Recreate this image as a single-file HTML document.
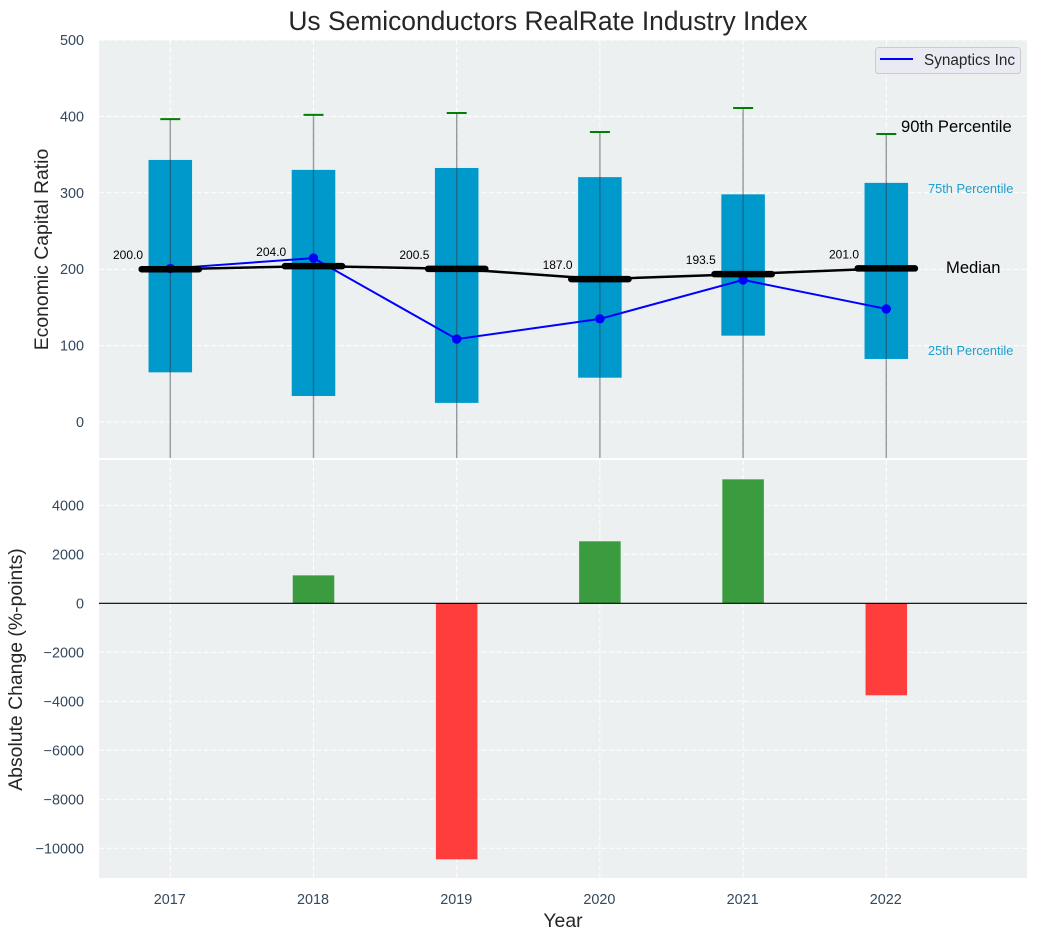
<!DOCTYPE html>
<html>
<head>
<meta charset="utf-8">
<title>Us Semiconductors RealRate Industry Index</title>
<style>
html,body{margin:0;padding:0;background:#fff;}
svg{display:block;font-family:"Liberation Sans",sans-serif;}
</style>
</head>
<body>
<svg id="chart" width="1038" height="940" viewBox="0 0 1038 940" xmlns="http://www.w3.org/2000/svg">
<defs>
<clipPath id="clip-top"><rect x="99" y="40" width="928" height="418"/></clipPath>
<clipPath id="clip-bottom"><rect x="99" y="460" width="928" height="418"/></clipPath>
</defs>
<rect x="0" y="0" width="1038" height="940" fill="#ffffff"/>
<rect x="99" y="40" width="928" height="418" fill="#ecf0f1"/>
<rect x="99" y="460" width="928" height="418" fill="#ecf0f1"/>
<g id="grid"></g>
<g id="top-marks" clip-path="url(#clip-top)"></g>
<g id="bottom-marks" clip-path="url(#clip-bottom)"></g>
<g id="labels"></g>
<text x="548" y="30" text-anchor="middle" font-size="26.4" fill="#262626">Us Semiconductors RealRate Industry Index</text>
<text transform="translate(48,249.5) rotate(-90)" text-anchor="middle" font-size="19.4" fill="#262626">Economic Capital Ratio</text>
<text transform="translate(22,669.5) rotate(-90)" text-anchor="middle" font-size="19.4" fill="#262626">Absolute Change (%-points)</text>
<text x="563" y="927" text-anchor="middle" font-size="19.4" fill="#262626">Year</text>
<g>
<rect x="875.5" y="47.5" width="145" height="26" rx="3" fill="#eaeaf2" stroke="#cccccc" stroke-width="1"/>
<line x1="880" y1="59" x2="913" y2="59" stroke="#0000ff" stroke-width="2"/>
<text x="924" y="65" font-size="15.3" fill="#262626">Synaptics Inc</text>
</g>
<text x="901" y="132" font-size="16.6" fill="#000000">90th Percentile</text>
<text x="928" y="193" font-size="12.8" fill="#1a9fcf">75th Percentile</text>
<text x="946" y="273" font-size="16.6" fill="#000000">Median</text>
<text x="928" y="355" font-size="12.8" fill="#1a9fcf">25th Percentile</text>
</svg>
<script>
var years = [2017, 2018, 2019, 2020, 2021, 2022];
var p90 = [396.5, 402, 404.5, 379.5, 411, 377];
var p75 = [343, 330, 332.5, 320.5, 298, 313];
var medians = [200, 204, 200.5, 187, 193.5, 201];
var p25 = [65, 34, 25, 58, 113, 82.5];
var p10 = [-100, -100, -100, -100, -100, -100];
var synaptics = [201, 214.5, 108.5, 135, 186, 148];
var changes = [0, 1140, -10450, 2530, 5060, -3755];
var medianLabels = ['200.0', '204.0', '200.5', '187.0', '193.5', '201.0'];
var topTicks = [0, 100, 200, 300, 400, 500];
var bottomTicks = [-10000, -8000, -6000, -4000, -2000, 0, 2000, 4000];

var NS = 'http://www.w3.org/2000/svg';
function xScale(v) { return 170.3 + (v - 2017) * 143.2; }
function yTop(v) { return 422 - v * 0.764; }
function yBottom(v) { return 603.3 - v * 0.0245; }
function make(parent, tag, attrs, name) {
  var el = document.createElementNS(NS, tag);
  for (var k in attrs) { el.setAttribute(k, attrs[k]); }
  
  
  parent.appendChild(el);
  return el;
}
var grid = document.getElementById('grid');
var topG = document.getElementById('top-marks');
var botG = document.getElementById('bottom-marks');
var labels = document.getElementById('labels');
var dash = '5,2.5';

years.forEach(function (yr) {
  var x = xScale(yr);
  make(grid, 'line', {x1: x, x2: x, y1: 40, y2: 458, stroke: '#ffffff', 'stroke-width': 1, 'stroke-dasharray': dash}, 'top-grid-x-' + yr);
  make(grid, 'line', {x1: x, x2: x, y1: 460, y2: 878, stroke: '#ffffff', 'stroke-width': 1, 'stroke-dasharray': dash}, 'bottom-grid-x-' + yr);
  var t = make(labels, 'text', {x: x - 0.5, y: 904, 'text-anchor': 'middle', 'font-size': 14.4, fill: '#34495e'}, 'x-tick-' + yr);
  t.textContent = yr;
});
topTicks.forEach(function (v) {
  var y = yTop(v);
  make(grid, 'line', {x1: 99, x2: 1027, y1: y, y2: y, stroke: '#ffffff', 'stroke-width': 1, 'stroke-dasharray': dash}, 'top-grid-y-' + v);
  var t = make(labels, 'text', {x: 84, y: y + 5, 'text-anchor': 'end', 'font-size': 14.4, fill: '#34495e'}, 'top-y-tick-' + v);
  t.textContent = v;
});
bottomTicks.forEach(function (v) {
  var y = yBottom(v);
  make(grid, 'line', {x1: 99, x2: 1027, y1: y, y2: y, stroke: '#ffffff', 'stroke-width': 1, 'stroke-dasharray': dash}, 'bottom-grid-y-' + v);
  var t = make(labels, 'text', {x: 84, y: y + 5, 'text-anchor': 'end', 'font-size': 14.4, fill: '#34495e'}, 'bottom-y-tick-' + v);
  t.textContent = String(v).replace('-', '\u2212');
});

var boxHalf = 0.152;
var capHalf = 10;
var medHalf = 0.2;
years.forEach(function (yr, i) {
  var x = xScale(yr);
  make(topG, 'rect', {x: xScale(yr - boxHalf), y: yTop(p75[i]), width: xScale(yr + boxHalf) - xScale(yr - boxHalf), height: yTop(p25[i]) - yTop(p75[i]), fill: '#0099cc'}, 'iqr-box-' + yr);
  make(topG, 'line', {x1: x, x2: x, y1: yTop(p90[i]), y2: yTop(p10[i]), stroke: '#2f3f46', 'stroke-opacity': 0.5, 'stroke-width': 1.4}, 'whisker-' + yr);
  make(topG, 'line', {x1: x - capHalf, x2: x + capHalf, y1: yTop(p90[i]), y2: yTop(p90[i]), stroke: '#008000', 'stroke-width': 2}, 'p90-cap-' + yr);
});
var synPts = years.map(function (yr, i) { return xScale(yr) + ',' + yTop(synaptics[i]); }).join(' ');
make(topG, 'polyline', {points: synPts, fill: 'none', stroke: '#0000ff', 'stroke-width': 2}, 'synaptics-line');
years.forEach(function (yr, i) {
  make(topG, 'circle', {cx: xScale(yr), cy: yTop(synaptics[i]), r: 4.7, fill: '#0000ff'}, 'synaptics-point-' + yr);
});
var medPts = years.map(function (yr, i) { return xScale(yr) + ',' + yTop(medians[i]); }).join(' ');
make(topG, 'polyline', {points: medPts, fill: 'none', stroke: '#000000', 'stroke-width': 2.5}, 'median-line');
years.forEach(function (yr, i) {
  var y = yTop(medians[i]);
  make(topG, 'line', {x1: xScale(yr - medHalf), x2: xScale(yr + medHalf), y1: y, y2: y, stroke: '#000000', 'stroke-width': 6.5, 'stroke-linecap': 'round'}, 'median-bar-' + yr);
  var t = make(labels, 'text', {x: xScale(yr) - 42.3, y: y - 10, 'text-anchor': 'middle', 'font-size': 12, fill: '#000000'}, 'median-label-' + yr);
  t.textContent = medianLabels[i];
});

years.forEach(function (yr, i) {
  if (changes[i] === 0) { return; }
  var y0 = yBottom(0), y1 = yBottom(changes[i]);
  make(botG, 'rect', {x: xScale(yr - 0.145), y: Math.min(y0, y1), width: xScale(yr + 0.145) - xScale(yr - 0.145), height: Math.abs(y1 - y0), fill: changes[i] > 0 ? '#3a9c3f' : '#ff3d3d'}, 'change-bar-' + yr);
});
make(botG, 'line', {x1: 99, x2: 1027, y1: yBottom(0), y2: yBottom(0), stroke: '#000000', 'stroke-width': 1.2}, 'zero-line');
</script>
</body>
</html>
